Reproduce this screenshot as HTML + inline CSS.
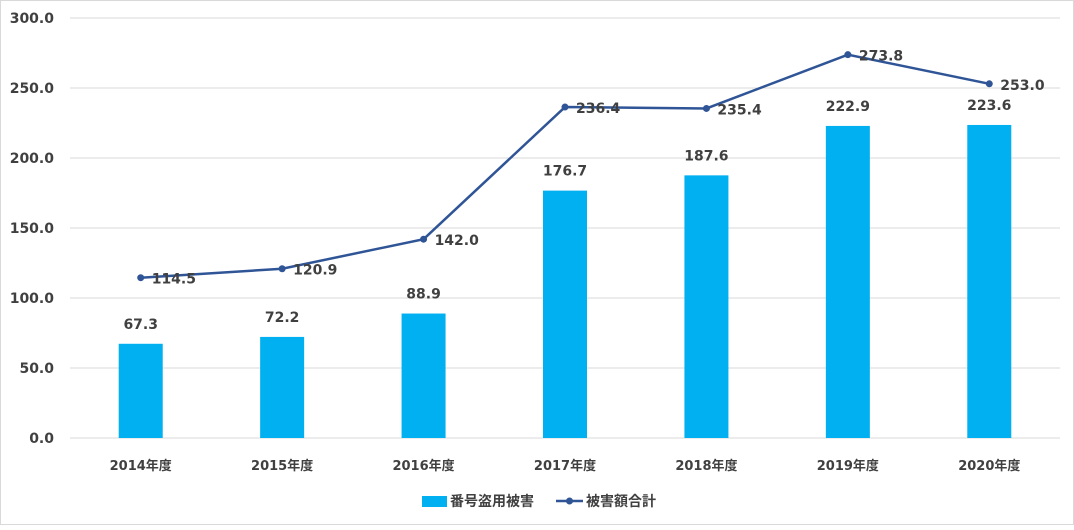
<!DOCTYPE html>
<html><head><meta charset="utf-8"><style>
body{margin:0;background:#fff;}
svg text{font-family:"DejaVu Sans","Noto Sans CJK JP",sans-serif;font-weight:bold;fill:#404040;}
</style></head><body>
<svg id="c" width="1074" height="525">
<rect x="0.5" y="0.5" width="1073" height="524" fill="#fff" stroke="#d9d9d9"/>
<g id="g"></g>
</svg>
<script>
const categories=["2014年度","2015年度","2016年度","2017年度","2018年度","2019年度","2020年度"];
const barValues=[67.3,72.2,88.9,176.7,187.6,222.9,223.6];
const lineValues=[114.5,120.9,142.0,236.4,235.4,273.8,253.0];
const yTicks=[0,50,100,150,200,250,300];
const NS="http://www.w3.org/2000/svg";
const g=document.getElementById('g');
const x0=70,x1=1060,y0=438,yTop=18;
const y=v=>y0-(v/300)*(y0-yTop);
const step=(x1-x0)/categories.length;
const xc=i=>x0+step*(i+0.5);
function el(t,a,txt){const e=document.createElementNS(NS,t);for(const k in a)e.setAttribute(k,a[k]);if(txt!==undefined)e.textContent=txt;g.appendChild(e);return e;}
yTicks.forEach(v=>{
 const l=el('line',{x1:x0,x2:x1,y1:y(v),y2:y(v),stroke:'#d9d9d9','stroke-width':1});
 
 
 const t=el('text',{x:54,y:y(v)+5,'text-anchor':'end','font-size':14,fill:'#595959'},v.toFixed(1));
 
 
});
categories.forEach((c,i)=>{
 const t=el('text',{x:xc(i),y:470,'text-anchor':'middle','font-size':13,fill:'#595959'},c);
 
 
});
barValues.forEach((v,i)=>{
 const r=el('rect',{x:xc(i)-22,y:y(v),width:44,height:y0-y(v),fill:'#00B0F0'});
 
 
 const t=el('text',{x:xc(i),y:y(v)-15,'text-anchor':'middle','font-size':14},v.toFixed(1));
 
 
});
const p=el('polyline',{points:lineValues.map((v,i)=>xc(i)+','+y(v)).join(' '),fill:'none',stroke:'#2F5597','stroke-width':2.5});


lineValues.forEach((v,i)=>{
 const d=el('circle',{cx:xc(i),cy:y(v),r:3.5,fill:'#2F5597'});
 
 
 const t=el('text',{x:xc(i)+11,y:y(v)+6,'font-size':14},v.toFixed(1));
 
 
});
</script>
<svg style="position:absolute;left:0;top:0" width="1074" height="525">
<rect x="422" y="496" width="25" height="11" fill="#00B0F0"/>
<text x="450" y="506" font-size="14" style="font-family:'DejaVu Sans','Noto Sans CJK JP',sans-serif;font-weight:bold" fill="#595959">番号盗用被害</text>
<line x1="556" y1="501" x2="583" y2="501" stroke="#2F5597" stroke-width="2.5"/>
<circle cx="569.5" cy="501" r="3.5" fill="#2F5597"/>
<text x="586" y="506" font-size="14" style="font-family:'DejaVu Sans','Noto Sans CJK JP',sans-serif;font-weight:bold" fill="#595959">被害額合計</text>
</svg>
</body></html>
